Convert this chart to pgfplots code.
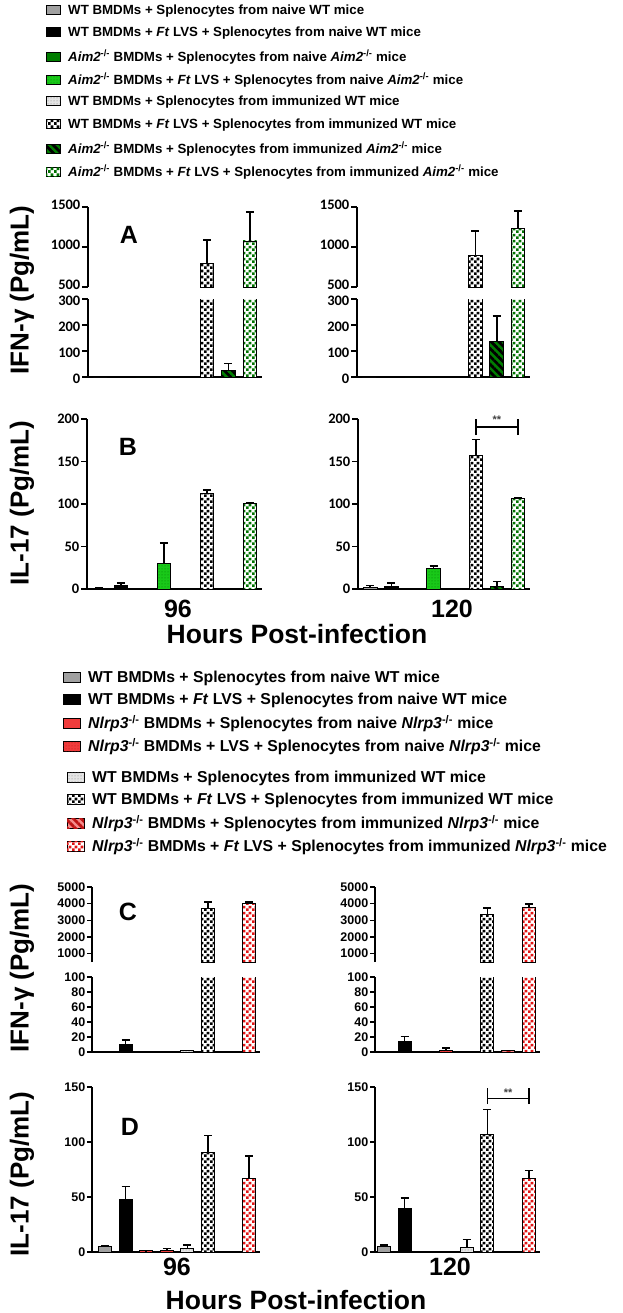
\documentclass[border=0pt]{standalone}
\usepackage{fontspec}
\setmainfont{Liberation Sans}
\newfontfamily\calfont{Carlito}
\usepackage{pgfplots}
\pgfplotsset{compat=1.18}
\usetikzlibrary{patterns,patterns.meta}

\definecolor{wtgray}{RGB}{160,160,160}
\definecolor{dgreen}{RGB}{0,125,0}
\definecolor{bgreen}{RGB}{25,200,25}
\definecolor{lgray}{RGB}{228,228,228}
\definecolor{chkgreen}{RGB}{0,115,0}
\definecolor{nred}{RGB}{240,60,60}
\definecolor{pinkred}{RGB}{245,140,140}
\definecolor{dred}{RGB}{190,20,20}
\definecolor{chkred}{RGB}{225,20,20}

\tikzdeclarepattern{
  name=mychecker,
  bounding box={(0pt,0pt) and (6pt,6pt)},
  tile size={(6pt,6pt)},
  code={\fill (0pt,0pt) rectangle (3pt,3pt); \fill (3pt,3pt) rectangle (6pt,6pt);}
}
\tikzdeclarepattern{
  name=thickstripes,
  bounding box={(0pt,-1.6pt) and (5.5pt,1.6pt)},
  tile size={(5.5pt,5.5pt)},
  tile transformation={rotate=-45},
  code={\draw[line width=2.8pt] (0pt,0pt) -- (5.5pt,0pt);}
}

\tikzset{
  s1/.style={fill=wtgray, draw=black, line width=0.9pt},
  s2/.style={fill=black, draw=black, line width=0.9pt},
  s3g/.style={fill=dgreen, draw=black, line width=0.9pt},
  s4g/.style={fill=bgreen, draw=black, line width=0.9pt, postaction={pattern=dots, pattern color=dgreen}},
  s5/.style={fill=lgray, draw=black, line width=0.9pt, postaction={pattern=dots, pattern color=gray}},
  s6/.style={fill=white, draw=black, line width=0.9pt, postaction={pattern=mychecker, pattern color=black}},
  s7g/.style={fill=dgreen, draw=black, line width=0.9pt, postaction={pattern=thickstripes, pattern color=black}},
  s8g/.style={fill=white, draw=black, line width=0.9pt, postaction={pattern=mychecker, pattern color=chkgreen}},
  s3r/.style={fill=nred, draw=black, line width=0.9pt},
  s4r/.style={fill=nred, draw=black, line width=0.9pt, postaction={pattern=dots, pattern color=dred}},
  s7r/.style={fill=pinkred, draw=black, line width=0.9pt, postaction={pattern=thickstripes, pattern color=dred}},
  s8r/.style={fill=white, draw=black, line width=0.9pt, postaction={pattern=mychecker, pattern color=chkred}},
}

\def\bw{13.5pt}
\newcommand{\be}[4]{\addplot[#1, ybar, bar width=\bw, bar shift=0pt,
   error bars/.cd, y dir=plus, y explicit,
   error bar style={line width=1.7pt, draw=black},
   error mark options={rotate=90, line width=1.7pt, draw=black, mark size=4pt}]
   coordinates {(#2,#3) +- (0,#4)};}
\newcommand{\bn}[3]{\addplot[#1, ybar, bar width=\bw, bar shift=0pt] coordinates {(#2,#3)};}

\pgfplotsset{
  base/.style={
    scale only axis, clip=true,
    axis y line*=left, axis x line*=bottom,
    xtick=\empty, xmin=0.42, xmax=8.57,
    axis line style={line width=1.6pt, black},
    tick style={line width=1.6pt, black},
    major tick length=6pt, tick align=outside,
    scaled y ticks=false,
    /pgf/number format/1000 sep={},
    /pgf/number format/assume math mode=true,
  },
  fAB/.style={yticklabel style={font=\calfont\bfseries\fontsize{14.5}{15}\selectfont, inner xsep=1.5pt, inner ysep=0pt}},
  fCD/.style={yticklabel style={font=\bfseries\fontsize{12.5}{13}\selectfont, inner xsep=1.5pt, inner ysep=0pt}},
  upper/.style={axis x line=none},
  upAB/.style={yticklabel style={yshift=2pt}},
  loAB/.style={yticklabel style={yshift=-1.5pt}},
}

\newcommand{\ko}{\textsuperscript{-/-}}
\def\ltfont{\bfseries\fontsize{13.3}{14}\selectfont}
\def\lbfont{\bfseries\fontsize{15.8}{16}\selectfont}
\def\ylfont{\bfseries\fontsize{26}{26}\selectfont}
\def\xlfont{\bfseries\fontsize{25}{25}\selectfont}
\def\hfont{\bfseries\fontsize{26.5}{27}\selectfont}
\def\pfont{\bfseries\fontsize{25}{25}\selectfont}

\begin{document}
\begin{tikzpicture}
\path[use as bounding box] (0pt,0pt) rectangle (623pt,-1313pt);

% ---------- top legend ----------
\draw[s1]  (46pt,-14.5pt) rectangle (60pt,-5.5pt);
\node[anchor=base west, inner sep=0pt, font=\ltfont] at (68pt,-14.7pt) {WT BMDMs + Splenocytes from naive WT mice};
\draw[s2]  (46pt,-36.5pt) rectangle (60pt,-27.5pt);
\node[anchor=base west, inner sep=0pt, font=\ltfont] at (68pt,-36.7pt) {WT BMDMs + \textit{Ft} LVS + Splenocytes from naive WT mice};
\draw[s3g] (46pt,-61.5pt) rectangle (60pt,-52.5pt);
\node[anchor=base west, inner sep=0pt, font=\ltfont] at (68pt,-61.7pt) {\textit{Aim2}\ko{} BMDMs + Splenocytes from naive \textit{Aim2}\ko{} mice};
\draw[s4g] (46pt,-84.5pt) rectangle (60pt,-75.5pt);
\node[anchor=base west, inner sep=0pt, font=\ltfont] at (68pt,-84.7pt) {\textit{Aim2}\ko{} BMDMs + \textit{Ft} LVS + Splenocytes from naive \textit{Aim2}\ko{} mice};
\draw[s5]  (46pt,-105.5pt) rectangle (60pt,-96.5pt);
\node[anchor=base west, inner sep=0pt, font=\ltfont] at (68pt,-105.7pt) {WT BMDMs + Splenocytes from immunized WT mice};
\draw[s6]  (46pt,-128.5pt) rectangle (60pt,-119.5pt);
\node[anchor=base west, inner sep=0pt, font=\ltfont] at (68pt,-128.7pt) {WT BMDMs + \textit{Ft} LVS + Splenocytes from immunized WT mice};
\draw[s7g] (46pt,-153.5pt) rectangle (60pt,-144.5pt);
\node[anchor=base west, inner sep=0pt, font=\ltfont] at (68pt,-153.7pt) {\textit{Aim2}\ko{} BMDMs + Splenocytes from immunized \textit{Aim2}\ko{} mice};
\draw[s8g] (46pt,-176.5pt) rectangle (60pt,-167.5pt);
\node[anchor=base west, inner sep=0pt, font=\ltfont] at (68pt,-176.7pt) {\textit{Aim2}\ko{} BMDMs + \textit{Ft} LVS + Splenocytes from immunized \textit{Aim2}\ko{} mice};

% ---------- Panel A ----------
\begin{axis}[base, fAB, loAB, at={(88pt,-377pt)}, anchor=south west, width=174pt, height=78pt,
  ymin=0, ymax=300, ytick={0,100,200,300}]
\bn{s1}{1}{0} \bn{s2}{2}{0} \bn{s3g}{3}{0} \bn{s4g}{4}{0} \bn{s5}{5}{2}
\be{s6}{6}{790}{300} \be{s7g}{7}{25}{27} \be{s8g}{8}{1075}{360}
\end{axis}
\begin{axis}[base, fAB, upAB, upper, at={(88pt,-287pt)}, anchor=south west, width=174pt, height=80pt,
  ymin=500, ymax=1500, ytick={500,1000,1500}]
\be{s6}{6}{790}{300} \be{s8g}{8}{1075}{360}
\end{axis}
\begin{axis}[base, fAB, loAB, at={(357pt,-377pt)}, anchor=south west, width=173pt, height=78pt,
  ymin=0, ymax=300, ytick={0,100,200,300}]
\bn{s1}{1}{0} \bn{s2}{2}{0} \bn{s3g}{3}{0} \bn{s4g}{4}{0} \bn{s5}{5}{3}
\be{s6}{6}{896}{308} \be{s7g}{7}{135}{100} \be{s8g}{8}{1233}{217}
\end{axis}
\begin{axis}[base, fAB, upAB, upper, at={(357pt,-287pt)}, anchor=south west, width=173pt, height=80pt,
  ymin=500, ymax=1500, ytick={500,1000,1500}]
\be{s6}{6}{896}{308} \be{s8g}{8}{1233}{217}
\end{axis}

% ---------- Panel B ----------
\begin{axis}[base, fAB, at={(87pt,-589pt)}, anchor=south west, width=175pt, height=170pt,
  ymin=0, ymax=200, ytick={0,50,100,150,200}]
\be{s1}{1}{1}{0.5} \be{s2}{2}{4}{3} \bn{s3g}{3}{0.5} \be{s4g}{4}{30}{24} \bn{s5}{5}{0}
\be{s6}{6}{112}{4.5} \bn{s7g}{7}{0} \be{s8g}{8}{101}{0.5}
\end{axis}
\begin{axis}[base, fAB, clip=false, at={(358pt,-589pt)}, anchor=south west, width=172pt, height=170pt,
  ymin=0, ymax=200, ytick={0,50,100,150,200}]
\be{s1}{1}{2}{2} \be{s2}{2}{3}{4} \bn{s3g}{3}{0.5} \be{s4g}{4}{24.5}{2.5} \bn{s5}{5}{0}
\be{s6}{6}{157}{19} \be{s7g}{7}{3}{6} \be{s8g}{8}{107}{0.3}
\draw[line width=1.6pt] (axis cs:6,190.5) -- (axis cs:8,190.5);
\draw[line width=1.6pt] (axis cs:6,181) -- (axis cs:6,200);
\draw[line width=1.6pt] (axis cs:8,181) -- (axis cs:8,200);
\node[anchor=base, inner sep=0pt, font=\bfseries\fontsize{11}{11}\selectfont, text=black!75] at (axis cs:7,195) {**};
\end{axis}

% labels A/B
\node[rotate=90, font=\ylfont] at (22pt,-290pt) {IFN-γ (Pg/mL)};
\node[rotate=90, font=\ylfont] at (22pt,-503pt) {IL-17 (Pg/mL)};
\node[font=\pfont, inner sep=0pt] at (129pt,-235pt) {A};
\node[font=\pfont, inner sep=0pt] at (128pt,-447pt) {B};
\node[font=\xlfont, inner sep=0pt] at (178pt,-609pt) {96};
\node[font=\xlfont, inner sep=0pt] at (452pt,-609pt) {120};
\node[font=\hfont, inner sep=0pt] at (297pt,-634pt) {Hours Post-infection};

% ---------- bottom legend ----------
\draw[s1]  (63pt,-682pt) rectangle (80pt,-672pt);
\node[anchor=base west, inner sep=0pt, font=\lbfont] at (88pt,-682.6pt) {WT BMDMs + Splenocytes from naive WT mice};
\draw[s2]  (63pt,-704pt) rectangle (80pt,-694pt);
\node[anchor=base west, inner sep=0pt, font=\lbfont] at (88pt,-704.6pt) {WT BMDMs + \textit{Ft} LVS + Splenocytes from naive WT mice};
\draw[s3r] (63pt,-728pt) rectangle (80pt,-718pt);
\node[anchor=base west, inner sep=0pt, font=\lbfont] at (88pt,-728.6pt) {\textit{Nlrp3}\ko{} BMDMs + Splenocytes from naive \textit{Nlrp3}\ko{} mice};
\draw[s4r] (63pt,-751pt) rectangle (80pt,-741pt);
\node[anchor=base west, inner sep=0pt, font=\lbfont] at (88pt,-751.6pt) {\textit{Nlrp3}\ko{} BMDMs + LVS + Splenocytes from naive \textit{Nlrp3}\ko{} mice};
\draw[s5]  (67pt,-782pt) rectangle (84pt,-772pt);
\node[anchor=base west, inner sep=0pt, font=\lbfont] at (92pt,-782.6pt) {WT BMDMs + Splenocytes from immunized WT mice};
\draw[s6]  (67pt,-804pt) rectangle (84pt,-794pt);
\node[anchor=base west, inner sep=0pt, font=\lbfont] at (92pt,-804.6pt) {WT BMDMs + \textit{Ft} LVS + Splenocytes from immunized WT mice};
\draw[s7r] (67pt,-828pt) rectangle (84pt,-818pt);
\node[anchor=base west, inner sep=0pt, font=\lbfont] at (92pt,-828.6pt) {\textit{Nlrp3}\ko{} BMDMs + Splenocytes from immunized \textit{Nlrp3}\ko{} mice};
\draw[s8r] (67pt,-851pt) rectangle (84pt,-841pt);
\node[anchor=base west, inner sep=0pt, font=\lbfont] at (92pt,-851.6pt) {\textit{Nlrp3}\ko{} BMDMs + \textit{Ft} LVS + Splenocytes from immunized \textit{Nlrp3}\ko{} mice};

% ---------- Panel C ----------
\def\bw{13pt}
\begin{axis}[base, fCD, at={(92pt,-1052pt)}, anchor=south west, width=168pt, height=75pt,
  xmin=0.37, xmax=8.52, ymin=0, ymax=100, ytick={0,20,40,60,80,100}, major tick length=5pt]
\bn{s1}{1}{1} \be{s2}{2}{10.7}{5} \bn{s3r}{3}{0.5} \bn{s4r}{4}{1} \bn{s5}{5}{1.5}
\be{s6}{6}{3690}{430} \be{s8r}{8}{4030}{70}
\end{axis}
\begin{axis}[base, fCD, upper, at={(92pt,-962pt)}, anchor=south west, width=168pt, height=75pt,
  xmin=0.37, xmax=8.52, ymin=500, ymax=5000, ytick={1000,2000,3000,4000,5000}, major tick length=5pt]
\be{s6}{6}{3690}{430} \be{s8r}{8}{4030}{70}
\end{axis}
\begin{axis}[base, fCD, at={(375pt,-1052pt)}, anchor=south west, width=165pt, height=75pt,
  xmin=0.57, xmax=8.54, ymin=0, ymax=100, ytick={0,20,40,60,80,100}, major tick length=5pt]
\bn{s1}{1}{1} \be{s2}{2}{13.8}{7} \bn{s3r}{3}{0.5} \be{s4r}{4}{2}{3}
\be{s6}{6}{3330}{400} \bn{s7r}{7}{1.5} \be{s8r}{8}{3765}{220}
\end{axis}
\begin{axis}[base, fCD, upper, at={(375pt,-962pt)}, anchor=south west, width=165pt, height=75pt,
  xmin=0.57, xmax=8.54, ymin=500, ymax=5000, ytick={1000,2000,3000,4000,5000}, major tick length=5pt]
\be{s6}{6}{3330}{400} \be{s8r}{8}{3765}{220}
\end{axis}

% ---------- Panel D ----------
\begin{axis}[base, fCD, at={(92pt,-1252pt)}, anchor=south west, width=168pt, height=165pt,
  xmin=0.37, xmax=8.52, ymin=0, ymax=150, ytick={0,50,100,150}, major tick length=5pt]
\be{s1}{1}{5}{1} \be{s2}{2}{48}{11.5} \be{s3r}{3}{1}{0.3} \be{s4r}{4}{1}{2.3} \be{s5}{5}{3}{3.4}
\be{s6}{6}{90.5}{15.5} \be{s8r}{8}{67}{20.5}
\end{axis}
\begin{axis}[base, fCD, at={(375pt,-1252pt)}, anchor=south west, width=165pt, height=165pt,
  xmin=0.57, xmax=8.54, ymin=0, ymax=150, ytick={0,50,100,150}, major tick length=5pt]
\be{s1}{1}{5}{1.5} \be{s2}{2}{40}{9} \bn{s3r}{3}{0.3} \bn{s4r}{4}{0.5} \be{s5}{5}{4}{7.5}
\be{s6}{6}{107}{22.5} \be{s8r}{8}{67}{7}
\draw[line width=1.6pt] (axis cs:6,139.7) -- (axis cs:8,139.7);
\draw[line width=1.6pt] (axis cs:6,134.5) -- (axis cs:6,149);
\draw[line width=1.6pt] (axis cs:8,134.5) -- (axis cs:8,149);
\node[anchor=base, inner sep=0pt, font=\bfseries\fontsize{11}{11}\selectfont, text=black!75] at (axis cs:7,141.5) {**};
\end{axis}

% labels C/D
\node[rotate=90, font=\ylfont] at (22pt,-968pt) {IFN-γ (Pg/mL)};
\node[rotate=90, font=\ylfont] at (22pt,-1174pt) {IL-17 (Pg/mL)};
\node[font=\pfont, inner sep=0pt] at (128pt,-912pt) {C};
\node[font=\pfont, inner sep=0pt] at (130pt,-1127pt) {D};
\node[font=\xlfont, inner sep=0pt] at (177pt,-1267pt) {96};
\node[font=\xlfont, inner sep=0pt] at (450pt,-1267pt) {120};
\node[font=\hfont, inner sep=0pt] at (296pt,-1300pt) {Hours Post-infection};
\end{tikzpicture}
\end{document}
